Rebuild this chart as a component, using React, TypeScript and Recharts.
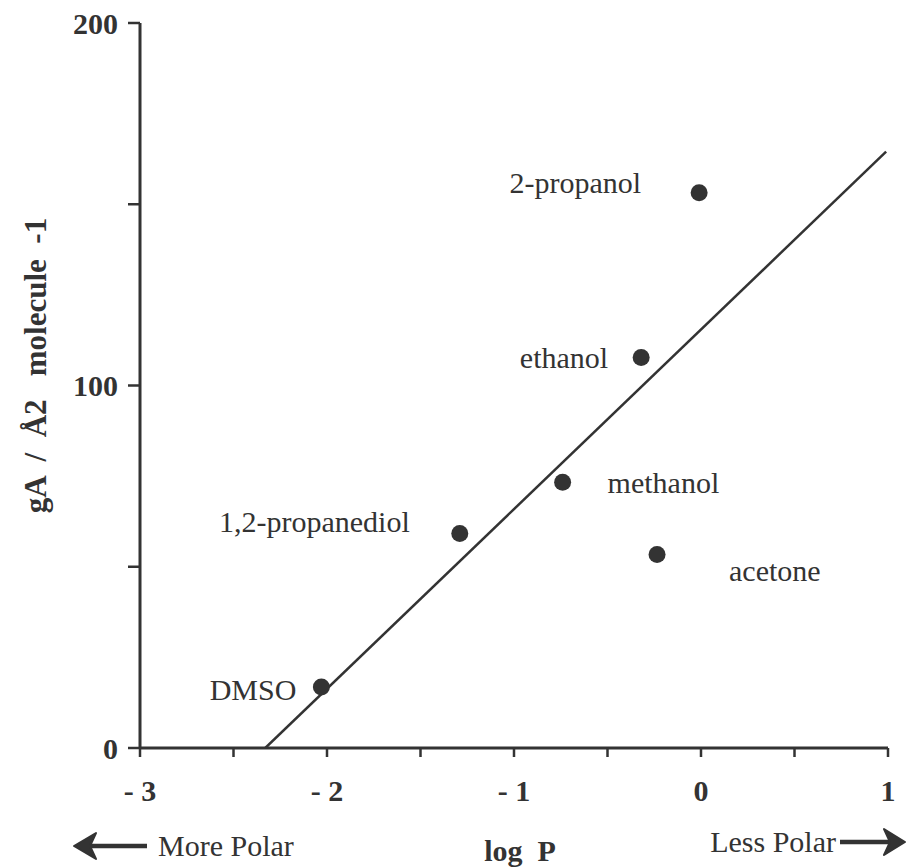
import React from 'react';
import { ScatterChart, Scatter, XAxis, YAxis, LabelList } from 'recharts';

const solvents = ['DMSO', '1,2-propanediol', 'methanol', 'acetone', 'ethanol', '2-propanol'];
const logP = [-2.03, -1.29, -0.74, -0.235, -0.32, -0.01];
const gA = [16.8, 59.2, 73.3, 53.4, 107.7, 153.2];

const fitLogP = [-2.33, 0.99];
const fitGA = [0, 164.5];

const xTicks = [-3, -2.5, -2, -1.5, -1, -0.5, 0, 0.5, 1];
const xTickLabels: Record<string, string> = { '-3': '- 3', '-2': '- 2', '-1': '- 1', '0': '0', '1': '1' };
const yTicks = [0, 50, 100, 150, 200];
const yTickLabels: Record<string, string> = { '0': '0', '100': '100', '200': '200' };

const xAxisTitle = 'log  P';
const leftNote = 'More Polar';
const rightNote = 'Less Polar';
const yAxisTitle = 'gA  /  Å2   molecule  -1';

const points = solvents.map((name, i) => ({ name, x: logP[i], y: gA[i] }));
const fitLine = fitLogP.map((x, i) => ({ x, y: fitGA[i] }));

const INK = '#333333';
const FONT = '"Liberation Serif", "Times New Roman", Times, serif';

// label placement relative to each point (style only)
const placement: Record<string, { anchor: string; dx: number; dy: number }> = {
  DMSO: { anchor: 'end', dx: -25, dy: 2 },
  '1,2-propanediol': { anchor: 'end', dx: -50, dy: -12 },
  methanol: { anchor: 'start', dx: 45, dy: 0 },
  acetone: { anchor: 'start', dx: 72, dy: 16 },
  ethanol: { anchor: 'end', dx: -33, dy: 0 },
  '2-propanol': { anchor: 'end', dx: -58, dy: -10 },
};

const PointLabel = (props: any) => {
  const { x, y, width, height, value } = props;
  const p = placement[value] || { anchor: 'start', dx: 10, dy: 0 };
  const cx = x + (width || 0) / 2;
  const cy = y + (height || 0) / 2;
  return (
    <text x={cx + p.dx} y={cy + p.dy} textAnchor={p.anchor} dominantBaseline="central" fill={INK}
      fontFamily={FONT} fontSize={30}>
      {value}
    </text>
  );
};

const XTick = (props: any) => {
  const { x, y, payload } = props;
  const lbl = xTickLabels[String(payload.value)];
  if (!lbl) return <g />;
  return (
    <text x={x} y={y + 31} textAnchor="middle" dominantBaseline="central" fill={INK} fontFamily={FONT}
      fontWeight="bold" fontSize={30} style={{ whiteSpace: 'pre' }}>
      {lbl}
    </text>
  );
};

const YTick = (props: any) => {
  const { x, y, payload } = props;
  const lbl = yTickLabels[String(payload.value)];
  if (!lbl) return <g />;
  return (
    <text x={x - 8} y={y} textAnchor="end" dominantBaseline="central" fill={INK} fontFamily={FONT} fontWeight="bold" fontSize={30}>
      {lbl}
    </text>
  );
};

const XTitle = (props: any) => {
  const { viewBox } = props;
  const baseY = viewBox.y + 108;
  const ay = baseY - 10;
  return (
    <g>
      <path d={`M 147 ${ay} L 90 ${ay}`} stroke={INK} strokeWidth={4.5} />
      <path d={`M 74 ${ay} L 96 ${ay - 13} L 90 ${ay} L 96 ${ay + 13} Z`} fill={INK} stroke={INK} strokeWidth={2} strokeLinejoin="round" />
      <text x={158} y={baseY} fill={INK} fontFamily={FONT} fontSize={30}>{leftNote}</text>
      <text x={520} y={baseY + 5} textAnchor="middle" fill={INK} fontFamily={FONT} fontWeight="bold" fontSize={30}
        style={{ whiteSpace: 'pre' }}>{xAxisTitle}</text>
      <text x={836} y={baseY - 4} textAnchor="end" fill={INK} fontFamily={FONT} fontSize={30}>{rightNote}</text>
      <path d={`M 840 ${ay - 4} L 890 ${ay - 4}`} stroke={INK} strokeWidth={4.5} />
      <path d={`M 905 ${ay - 4} L 884 ${ay - 17} L 890 ${ay - 4} L 884 ${ay + 9} Z`} fill={INK} stroke={INK} strokeWidth={2} strokeLinejoin="round" />
    </g>
  );
};

const YTitle = (props: any) => {
  const { viewBox } = props;
  const cx = 35;
  const cy = viewBox.y + viewBox.height / 2 - 20;
  return (
    <text x={cx} y={cy} transform={`rotate(-90 ${cx} ${cy})`} textAnchor="middle" dominantBaseline="central"
      fill={INK} fontFamily={FONT} fontWeight="bold" fontSize={31} style={{ whiteSpace: 'pre' }}>
      {yAxisTitle}
    </text>
  );
};

const NoShape = () => <g />;

const Dot = (props: any) => {
  const { cx, cy } = props;
  return <circle cx={cx} cy={cy} r={8.5} fill={INK} />;
};

export default function App() {
  return (
    <div style={{ position: 'absolute', left: 0, top: 0, width: 906, height: 867, background: '#fff' }}>
      <ScatterChart width={906} height={867} margin={{ top: 23, right: 18, bottom: 69, left: 80 }}>
        <XAxis type="number" dataKey="x" domain={[-3, 1]} ticks={xTicks} allowDataOverflow
          axisLine={{ stroke: INK, strokeWidth: 3 }} tickLine={{ stroke: INK, strokeWidth: 2.5 }} tickSize={9}
          tick={<XTick />} height={50} label={<XTitle />} />
        <YAxis type="number" dataKey="y" domain={[0, 200]} ticks={yTicks} allowDataOverflow
          axisLine={{ stroke: INK, strokeWidth: 3 }} tickLine={{ stroke: INK, strokeWidth: 2.5 }} tickSize={12}
          tick={<YTick />} width={60} label={<YTitle />} />
        <Scatter data={fitLine} line={{ stroke: INK, strokeWidth: 2.5 }} shape={<NoShape />} isAnimationActive={false} />
        <Scatter data={points} shape={<Dot />} isAnimationActive={false}>
          <LabelList dataKey="name" content={<PointLabel />} />
        </Scatter>
      </ScatterChart>
    </div>
  );
}
